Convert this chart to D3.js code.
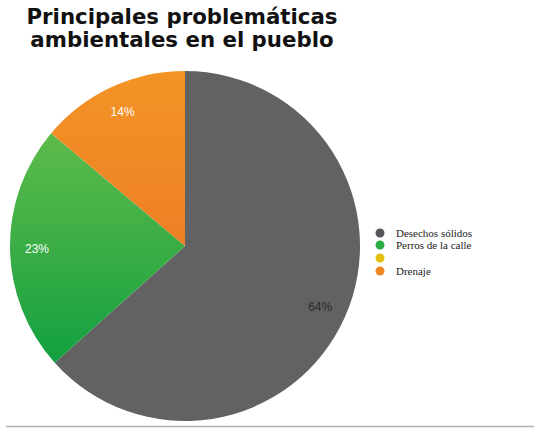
<!DOCTYPE html>
<html><head><meta charset="utf-8">
<script src="https://cdn.jsdelivr.net/npm/d3@7"></script>
<style>html,body{margin:0;padding:0;background:#fff;}svg{display:block;}</style>
</head><body>
<svg id="chart" width="534" height="428"></svg>
<script>
const titleLines = ["Principales problemáticas", "ambientales en el pueblo"];
const categories = ["Desechos sólidos", "Perros de la calle", "", "Drenaje"];
const values = [64, 23, 0, 14];
const labels = ["64%", "23%", "", "14%"];
const colors = ["#626262", "url(#gGreen)", "#e9c010", "url(#gOrange)"];
const legendColors = ["#58565a", "#2aae43", "#e6bf12", "#ef8626"];
const labelColors = ["#2a2a2a", "#ffffff", "#ffffff", "#ffffff"];

const svg = d3.select("#chart");
const defs = svg.append("defs");
const cx = 185, cy = 246, R = 175;

// gradients in the pie group's local coordinates (centre at 0,0)
const gg = defs.append("linearGradient").attr("id","gGreen")
  .attr("gradientUnits","userSpaceOnUse").attr("x1",0).attr("y1",-115).attr("x2",0).attr("y2",120);
gg.append("stop").attr("offset","0").attr("stop-color","#5ebb4a");
gg.append("stop").attr("offset","0.5").attr("stop-color","#3aad45");
gg.append("stop").attr("offset","1").attr("stop-color","#11a040");
const go = defs.append("linearGradient").attr("id","gOrange")
  .attr("gradientUnits","userSpaceOnUse").attr("x1",0).attr("y1",-R).attr("x2",0).attr("y2",0);
go.append("stop").attr("offset","0").attr("stop-color","#f39426");
go.append("stop").attr("offset","1").attr("stop-color","#ee7f24");

// title
svg.append("g").selectAll("text").data(titleLines).join("text")
  .attr("x", 182).attr("y", (d,i) => 23.5 + i*23.5)
  .attr("text-anchor","middle")
  .attr("font-family","DejaVu Sans, Verdana, sans-serif")
  .attr("font-weight","bold").attr("font-size", 21.3).attr("fill","#111")
  .text(d => d);

const pie = d3.pie().sort(null).value(d => d);
const arcs = pie(values);
const arc = d3.arc().innerRadius(0).outerRadius(R);
const labelArc = d3.arc().innerRadius(148).outerRadius(148);

const g = svg.append("g").attr("transform", `translate(${cx},${cy})`);
g.selectAll("path").data(arcs).join("path")
  .attr("d", arc).attr("fill", (d,i) => colors[i]);

g.selectAll("text").data(arcs).join("text")
  .attr("transform", d => `translate(${labelArc.centroid(d)})`)
  .attr("text-anchor","middle").attr("dy","0.35em")
  .attr("font-family","Liberation Sans, Arial, sans-serif")
  .attr("font-size", 12)
  .attr("fill", (d,i) => labelColors[i])
  .text((d,i) => labels[i]);

// legend
const lg = svg.append("g");
const ly = [233, 245, 258, 271];
lg.selectAll("circle").data(categories).join("circle")
  .attr("cx", 380).attr("cy", (d,i) => ly[i]).attr("r", 4.5)
  .attr("fill", (d,i) => legendColors[i]);
lg.selectAll("text").data(categories).join("text")
  .attr("x", 396).attr("y", (d,i) => ly[i]).attr("dy","0.33em")
  .attr("font-family","Liberation Serif, Times New Roman, serif")
  .attr("font-size", 11).attr("fill","#222")
  .text(d => d);

// bottom rule
svg.append("line").attr("x1",6).attr("x2",534).attr("y1",426.5).attr("y2",426.5)
  .attr("stroke","#b0b0b0").attr("stroke-width",1.5);
</script>
</body></html>
